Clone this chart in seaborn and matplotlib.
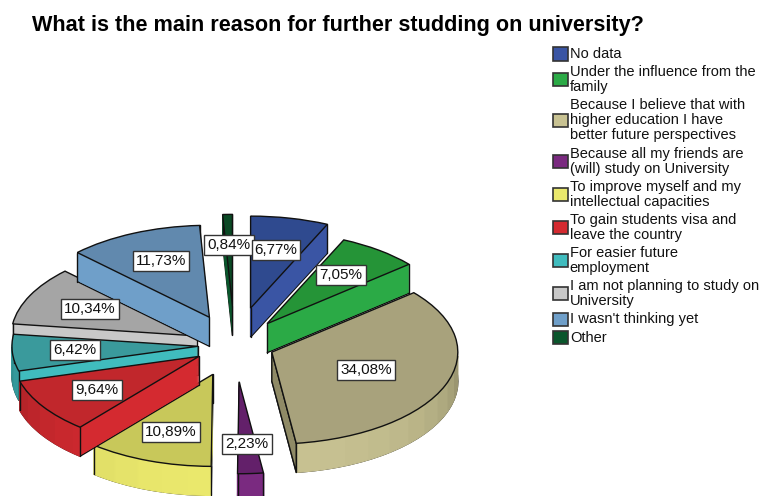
import math
import numpy as np
import seaborn as sns
import matplotlib.pyplot as plt

categories = ["No data", "Under the influence from the\nfamily",
              "Because I believe that with\nhigher education I have\nbetter future perspectives",
              "Because all my friends are\n(will) study on University",
              "To improve myself and my\nintellectual capacities",
              "To gain students visa and\nleave the country",
              "For easier future\nemployment",
              "I am not planning to study on\nUniversity",
              "I wasn't thinking yet", "Other"]
values = [6.77, 7.05, 34.08, 2.23, 10.89, 9.64, 6.42, 10.34, 11.73, 0.84]
value_labels = ["6,77%", "7,05%", "34,08%", "2,23%", "10,89%", "9,64%", "6,42%", "10,34%", "11,73%", "0,84%"]
side_colors = ["#3A55A4", "#2BAA46", "#C8C292", "#7A2A80", "#EAE86C",
               "#D42A30", "#40BCBE", "#C8C8C8", "#6F9FC9", "#0A562C"]
top_colors = ["#2F4A8F", "#259437", "#A8A27C", "#63206A", "#C8C85A",
              "#C1272C", "#3A9A9C", "#A5A5A5", "#6189AE", "#0A4A25"]

# layout (pixels)
explode = [0.41, 0.29, 0.215, 0.40, 0.34, 0.228, 0.197, 0.224, 0.33, 0.42]
draw_rank = [2, 3, 4, 5, 9, 10, 8, 6, 7, 1]
label_pos = [(276, 250), (341, 275), (366, 370), (247, 444), (171, 432),
             (97, 390), (75, 350), (90, 309), (161, 261), (229, 245)]

W, H = 760, 496
CX, CY, RX, RY = 234.5, 345, 186, 92
DEPTH = 29
BAND = 8  # degrees per facet of the outer wall

sns.set_theme(style="white")
plt.rcParams['font.family'] = ['Liberation Sans', 'DejaVu Sans']

palette = sns.color_palette(side_colors)

fig = plt.figure(figsize=(W / 100, H / 100), dpi=100)
ax = fig.add_axes([0, 0, 1, 1])

# the depth is a stack of pies, one pixel apart, lowest first
for k in range(DEPTH, 0, -1):
    wedges, _ = ax.pie(values, explode=explode, colors=palette, radius=1, startangle=90,
                       counterclock=False, center=(0, -k / RY))
    for w, r, col in zip(wedges, draw_rank, palette):
        w.set_zorder(r + 0.4 - k / 100)
        if k == DEPTH:
            w.set_edgecolor("#111111")
            w.set_linewidth(1.0)
        else:
            w.set_edgecolor(col)
            w.set_linewidth(0.4)

tops, _ = ax.pie(values, explode=explode, colors=top_colors, radius=1, startangle=90,
                 counterclock=False, wedgeprops={"edgecolor": "#111111", "linewidth": 1.0})
d = DEPTH / RY
for w, r, col in zip(tops, draw_rank, palette):
    w.set_zorder(r + 0.8)
    x0, y0 = w.center
    # facets of the outer wall, darker towards the sides
    for a in np.arange(w.theta1, w.theta2, BAND):
        b = min(a + BAND, w.theta2)
        ang = np.radians(np.linspace(a, b, 6))
        if np.sin(ang).mean() >= 0:
            continue
        s = 0.66 + 0.34 * math.sqrt(max(-np.sin(ang).mean(), 0))
        shade = tuple(c * s for c in col)
        xs = x0 + np.cos(ang)
        ys = y0 + np.sin(ang)
        ax.fill(np.r_[xs, xs[::-1]], np.r_[ys, ys[::-1] - d], color=shade, lw=1.0, zorder=r + 0.5)
    # corners of the block
    for t in (w.theta1, w.theta2):
        x1 = x0 + math.cos(math.radians(t))
        y1 = y0 + math.sin(math.radians(t))
        ax.plot([x1, x1], [y1, y1 - d], color="#111111", lw=1.0, zorder=r + 0.6)
    ax.plot([x0, x0], [y0, y0 - d], color="#111111", lw=1.0, zorder=r + 0.6)

# the cut face of the big slice is in shadow
big = tops[2]
t = math.radians(big.theta1)
bx, by = big.center
ax.fill([bx, bx + math.cos(t), bx + math.cos(t), bx], [by, by + math.sin(t), by + math.sin(t) - d, by - d],
        color="#8F8A66", ec="#111111", lw=1.0, zorder=big.get_zorder() - 0.1)

ax.set_aspect("auto")
ax.set_xlim(-CX / RX, (W - CX) / RX)
ax.set_ylim((CY - H) / RY, CY / RY)
ax.axis("off")

for txt, (px, py), r in zip(value_labels, label_pos, draw_rank):
    fig.text(px / W, 1 - py / H, txt, ha="center", va="center", fontsize=11, color="#111111", zorder=20 + r,
             bbox=dict(boxstyle="square,pad=0.2", fc="white", ec="#333333", lw=1.0))

fig.text(32 / W, 1 - 26 / H, "What is the main reason for further studding on university?",
         fontsize=15.6, fontweight="bold", color="black", ha="left", va="center")

leg = ax.legend(tops, categories, loc="upper left", bbox_to_anchor=(553 / W, 1 - 47 / H),
                bbox_transform=fig.transFigure, frameon=False, fontsize=10.5, handlelength=1.0, handleheight=1.0,
                handletextpad=0.15, labelspacing=0.28, borderpad=0, borderaxespad=0)
leg.set_zorder(30)
for txt in leg.get_texts():
    txt.set_color("#111111")
    txt.set_linespacing(1.1)
for h, col in zip(leg.get_patches(), palette):
    h.set_facecolor(col)
    h.set_edgecolor("#333333")
    h.set_linewidth(1.2)
for row in leg._legend_handle_box.get_children()[0].get_children():
    row.align = "center"

fig.savefig("out.png", dpi=100)
